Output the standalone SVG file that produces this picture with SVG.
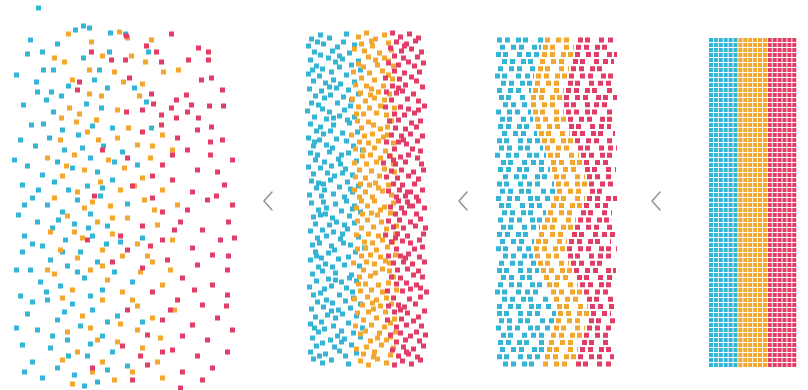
<svg xmlns="http://www.w3.org/2000/svg" xmlns:xlink="http://www.w3.org/1999/xlink" width="808" height="390" viewBox="0 0 808 390">
<style>
.d{fill:none;stroke-width:5}
.b{stroke:#34b5d6}
.y{stroke:#f3a72e}
.r{stroke:#e13d66}
.p1{stroke-dasharray:5 3 5 6 5 2 5 10 5 4 5 7}
.p2{stroke-dasharray:5 6 5 3 5 8 5 2 5 5 5 11}
.p3{stroke-dasharray:5 2 5 9 5 4 5 3 5 12 5 5}
.g{stroke-width:4;stroke-dasharray:4 1}
.chev{fill:none;stroke:#8896a2;stroke-width:1.5;stroke-linecap:round;stroke-linejoin:round}
</style>
<rect width="808" height="390" fill="#ffffff"/>

<g id="panel1">
<path class="d b" d="M36 8h5M73 30h5M81 26h5M87 28h5M108 33h5M123 34h5M25 54h5M40 52h5M81 58h5M107 52h5M146 52h5M41 70h5M51 70h5M97 70h5M34 82h5M92 80h5M35 92h5M49 92h5M59 96h5M105 88h5M132 88h5M21 105h5M51 112h5M99 108h5M144 102h5M29 125h5M41 124h5M149 128h5M110 128h5M18 140h5M33 146h5M47 138h5M62 150h5M76 135h5M88 158h5M101 146h5M120 152h5M55 162h5M70 168h5M25 166h5M40 175h5M95 172h5M135 165h5M20 185h5M52 182h5M66 190h5M85 186h5M110 180h5M30 198h5M45 205h5M75 200h5M98 196h5M125 204h5M60 212h5M16 215h5M88 214h5M35 222h5M50 228h5M72 224h5M105 226h5M22 236h5M63 240h5M90 236h5M118 242h5M40 246h5M78 252h5M140 238h5M20 252h5M48 260h5M65 266h5M95 262h5M28 270h5M112 272h5M38 282h5M58 286h5M82 278h5M18 296h5M100 290h5M130 282h5M45 300h5M70 304h5M90 310h5M25 314h5M55 320h5M115 316h5M35 330h5M78 326h5M100 336h5M140 322h5M20 345h5M48 348h5M65 340h5M85 356h5M30 362h5M110 352h5M55 368h5M40 378h5M72 375h5M95 382h5M125 366h5M28 40h5M55 44h5M14 75h5M66 86h5M44 100h5M84 104h5M60 130h5M90 126h5M12 160h5M80 148h5M112 162h5M36 190h5M100 188h5M22 205h5M56 220h5M86 228h5M30 244h5M104 244h5M60 252h5M14 270h5M75 272h5M44 292h5M88 296h5M30 302h5M62 312h5M105 322h5M14 328h5M50 336h5M88 344h5M66 356h5M22 372h5M105 370h5M82 386h5"/>
<path class="d y" d="M66 34h5M117 32h5M125 38h5M89 42h5M52 58h5M62 62h5M129 56h5M143 62h5M149 40h5M87 70h5M161 72h5M176 70h5M70 80h5M87 94h5M99 96h5M121 82h5M137 96h5M67 108h5M77 114h5M115 110h5M59 118h5M74 122h5M94 120h5M85 132h5M58 140h5M115 138h5M135 145h5M160 135h5M72 155h5M106 160h5M148 158h5M82 170h5M122 168h5M170 150h5M45 158h5M60 176h5M98 182h5M140 178h5M118 190h5M75 192h5M160 190h5M52 198h5M108 206h5M142 200h5M82 208h5M175 205h5M65 216h5M95 222h5M125 218h5M155 225h5M48 232h5M80 238h5M110 234h5M135 244h5M58 250h5M100 250h5M170 240h5M75 258h5M120 256h5M150 262h5M88 270h5M52 274h5M138 272h5M105 280h5M70 290h5M160 285h5M120 292h5M60 298h5M100 300h5M135 306h5M80 316h5M150 318h5M118 324h5M65 332h5M95 340h5M172 310h5M115 342h5M140 348h5M75 352h5M100 362h5M130 372h5M60 360h5M155 362h5M112 380h5M100 56h5M112 72h5M140 84h5M96 140h5M126 128h5M150 146h5M64 166h5M132 186h5M90 202h5M152 210h5M110 218h5M72 232h5M145 256h5M100 266h5M168 270h5M130 300h5M88 328h5M135 330h5M158 338h5M90 372h5M70 384h5M160 378h5M45 270h5"/>
<path class="d r" d="M124 36h5M169 34h5M144 46h5M154 52h5M196 48h5M206 52h5M206 60h5M109 60h5M123 60h5M89 52h5M159 62h5M199 80h5M209 78h5M77 82h5M75 90h5M127 78h5M149 94h5M151 104h5M159 115h5M174 100h5M184 95h5M189 105h5M185 112h5M169 108h5M174 118h5M221 106h5M207 106h5M124 112h5M159 125h5M209 127h5M140 132h5M175 138h5M195 130h5M220 140h5M185 150h5M208 155h5M230 160h5M160 165h5M125 158h5M195 170h5M215 172h5M100 150h5M130 186h5M170 180h5M190 192h5M222 185h5M150 198h5M205 200h5M185 210h5M230 205h5M160 212h5M92 196h5M140 226h5M178 222h5M200 230h5M218 240h5M160 240h5M190 248h5M232 238h5M125 250h5M210 255h5M85 240h5M165 260h5M195 265h5M225 270h5M140 268h5M180 278h5M210 285h5M150 292h5M225 295h5M110 262h5M175 300h5M200 305h5M125 310h5M160 320h5M190 325h5M215 318h5M230 330h5M145 335h5M205 340h5M120 346h5M170 350h5M195 356h5M225 352h5M145 365h5M180 372h5M210 368h5M130 380h5M178 388h5M90 368h5M186 60h5M220 90h5M140 110h5M196 118h5M170 155h5M208 142h5M150 176h5M214 196h5M172 230h5M148 246h5M226 256h5M192 290h5M168 310h5M224 306h5M180 336h5M138 356h5M200 380h5M160 352h5M118 236h5M226 222h5"/>
</g>

<g id="panel2">
<g id="p2top">
<path class="d b" d="M309 39h5M318 35h5M327 38h5M344 34h5M306 46h5M321 44h5M335 47h5M341 42h5M352 45h5M312 52h5M318 55h5M330 51h5M347 53h5M308 60h5M326 58h5M333 62h5M340 59h5M356 61h5M314 66h5M320 69h5M337 67h5M349 65h5M306 74h5M317 76h5M329 72h5M344 75h5M311 81h5M323 83h5M331 80h5M338 84h5M352 82h5M307 89h5M319 91h5M334 88h5M346 90h5M313 96h5M322 98h5M328 95h5M341 97h5M356 94h5M309 103h5M316 105h5M335 103h5M348 106h5M305 111h5M320 109h5M327 112h5M342 110h5M312 117h5M324 119h5M337 116h5M345 120h5M352 117h5M308 124h5M318 127h5M331 125h5M347 123h5M314 131h5M321 134h5M328 131h5M340 133h5M355 132h5M306 138h5M317 140h5M334 139h5M344 141h5M311 146h5M324 145h5M330 148h5M351 146h5M308 153h5M315 155h5M327 152h5M339 155h5M346 153h5M313 160h5M322 162h5M336 159h5M354 161h5M306 167h5M318 168h5M329 166h5M343 169h5M311 174h5M325 173h5M332 176h5M340 173h5M350 175h5M309 181h5M316 183h5M328 180h5M345 182h5M314 188h5M322 190h5M337 187h5M348 189h5M356 186h5M307 195h5M319 196h5M331 194h5M342 197h5M358 70h5M360 150h5M315 42h5M337 56h5M310 70h5M327 87h5M349 100h5M331 118h5M312 142h5M338 164h5M321 184h5M350 192h5"/>
<path class="d y" d="M356 37h5M364 33h5M373 39h5M382 35h5M359 44h5M370 46h5M386 43h5M352 49h5M362 51h5M377 53h5M389 50h5M366 57h5M373 60h5M382 58h5M356 64h5M361 67h5M375 65h5M391 66h5M351 72h5M367 73h5M380 71h5M386 75h5M359 78h5M372 80h5M390 79h5M353 85h5M364 86h5M369 89h5M381 86h5M358 93h5M376 92h5M387 94h5M350 99h5M363 101h5M372 98h5M382 100h5M356 107h5M367 108h5M378 106h5M392 108h5M361 114h5M374 113h5M384 115h5M355 121h5M366 122h5M371 125h5M389 121h5M359 128h5M378 129h5M385 127h5M349 135h5M362 136h5M370 134h5M381 137h5M357 142h5M366 143h5M376 141h5M391 143h5M353 149h5M372 148h5M383 151h5M360 156h5M368 155h5M378 158h5M388 156h5M352 163h5M364 164h5M374 162h5M357 170h5M369 171h5M382 169h5M392 172h5M353 177h5M363 178h5M377 176h5M358 184h5M367 185h5M373 183h5M386 185h5M352 190h5M363 192h5M380 191h5M357 197h5M370 197h5M389 195h5M369 41h5M386 61h5M368 95h5M354 114h5M385 135h5M361 150h5M391 164h5M376 188h5"/>
<path class="d r" d="M390 33h5M398 37h5M407 34h5M416 38h5M394 42h5M404 44h5M413 41h5M388 48h5M399 51h5M409 49h5M419 52h5M392 56h5M401 58h5M415 57h5M386 63h5M396 65h5M406 62h5M412 66h5M421 63h5M392 71h5M402 73h5M417 72h5M383 78h5M397 79h5M409 77h5M414 81h5M390 86h5M403 85h5M420 87h5M384 92h5M394 93h5M400 91h5M411 94h5M389 100h5M405 99h5M416 101h5M383 107h5M398 107h5M406 109h5M422 106h5M392 114h5M402 115h5M412 113h5M387 121h5M396 120h5M409 123h5M418 121h5M393 128h5M403 129h5M414 127h5M389 135h5M399 136h5M408 134h5M420 136h5M384 142h5M396 142h5M404 144h5M415 141h5M392 149h5M410 149h5M418 151h5M387 156h5M398 157h5M406 155h5M415 158h5M381 163h5M393 164h5M403 162h5M419 164h5M389 171h5M399 170h5M411 172h5M384 177h5M395 178h5M406 176h5M416 179h5M391 184h5M400 185h5M412 184h5M386 191h5M397 190h5M408 192h5M420 190h5M394 197h5M403 196h5M414 197h5M402 46h5M396 88h5M416 110h5M401 140h5M391 160h5M421 170h5M405 192h5"/>
</g>
<use href="#p2top" xlink:href="#p2top" transform="translate(2,398) scale(1,-1)"/>
</g>

<g id="panel3">
<path class="d b p1" d="M497 40H543M502 61.6H538M501 83.2H533M503 104.8H529M498 126.4H534M499 148H543M498 169.6H550M500 191.2H555M502 212.8H546M497 234.4H537M503 256H533M501 277.6H542M502 299.2H552M499 320.8H554M498 342.4H547M503 364H541"/>
<path class="d b p2" d="M500 47.2H541M498 68.8H536M497 90.4H531M496 112H531M502 133.6H537M495 155.2H546M503 176.8H552M496 198.4H552M498 220H543M500 241.6H534M499 263.2H536M498 284.8H545M497 306.4H555M496 328H552M500 349.6H545"/>
<path class="d b p3" d="M496 54.4H540M495 76H534M499 97.6H529M500 119.2H533M497 140.8H540M501 162.4H549M497 184H554M499 205.6H549M501 227.2H540M496 248.8H532M497 270.4H539M495 292H549M497 313.6H556M501 335.2H549M497 356.8H543"/>
<path class="d y p2" d="M545 40H576M540 61.6H571M535 83.2H566M531 104.8H562M536 126.4H567M545 148H576M552 169.6H583M557 191.2H588M548 212.8H579M539 234.4H570M535 256H566M544 277.6H575M554 299.2H585M556 320.8H587M549 342.4H580M543 364H574"/>
<path class="d y p3" d="M543 47.2H574M538 68.8H569M533 90.4H564M533 112H564M539 133.6H570M548 155.2H579M554 176.8H585M554 198.4H585M545 220H576M536 241.6H567M538 263.2H569M547 284.8H578M557 306.4H588M554 328H585M547 349.6H578"/>
<path class="d y p1" d="M542 54.4H573M536 76H567M531 97.6H562M535 119.2H566M542 140.8H573M551 162.4H582M556 184H587M551 205.6H582M542 227.2H573M534 248.8H565M541 270.4H572M551 292H582M558 313.6H589M551 335.2H582M545 356.8H576"/>
<path class="d r p3" d="M578 40H615M573 61.6H614M568 83.2H613M564 104.8H612M569 126.4H611M578 148H617M585 169.6H616M590 191.2H611M581 212.8H612M572 234.4H615M568 256H614M577 277.6H613M587 299.2H617M589 320.8H616M582 342.4H612M576 364H613"/>
<path class="d r p1" d="M576 47.2H612M571 68.8H611M566 90.4H615M566 112H614M572 133.6H615M581 155.2H612M587 176.8H613M587 198.4H617M578 220H616M569 241.6H611M571 263.2H612M580 284.8H615M590 306.4H614M587 328H613M580 349.6H617"/>
<path class="d r p2" d="M575 54.4H617M569 76H616M564 97.6H617M568 119.2H616M575 140.8H613M584 162.4H614M589 184H615M584 205.6H614M575 227.2H613M567 248.8H617M574 270.4H616M584 292H612M591 313.6H611M584 335.2H615M578 356.8H614"/>
</g>

<g id="panel4">
<path class="d b g" d="M711 38V368M715.9 38V368M720.8 38V368M725.7 38V368M730.6 38V368M735.5 38V368"/>
<path class="d y g" d="M740.4 38V368M745.3 38V368M750.2 38V368M755.1 38V368M760 38V368M764.9 38V368"/>
<path class="d r g" d="M769.8 38V368M774.7 38V368M779.6 38V368M784.5 38V368M789.4 38V368M794.3 38V368"/>
</g>

<g id="connectors">
<polyline class="chev" points="272,192 264,201 272,210"/>
<polyline class="chev" points="467,192 459,201 467,210"/>
<polyline class="chev" points="660,192 652,201 660,210"/>
</g>
</svg>
